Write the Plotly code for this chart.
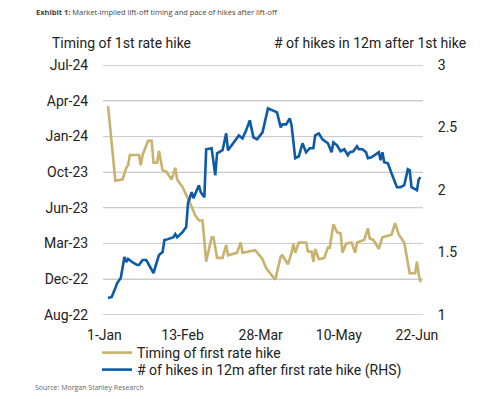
import plotly.graph_objects as go
import pandas as pd

# ---------------- data ----------------
# Day offsets from 1-Jan-2022 for each observation
gold_days = [2, 6, 10, 12, 13, 14, 19, 20, 21, 24, 26, 27, 29, 30, 32, 34, 37, 39, 40, 43,
             47, 50, 52, 54, 56, 59, 60, 62, 65, 67, 68, 73, 75, 76, 83, 87, 89, 92, 94, 97,
             98, 101, 103, 104, 105, 107, 109, 111, 112, 114, 115, 116, 118, 121, 123, 124, 126, 128, 130, 131,
             133, 136, 138, 139, 143, 145, 146, 148, 151, 153, 158, 160, 162, 165, 167, 168, 171, 172, 173, 174]
# Market-implied timing of first rate hike (decimal year)
gold_vals = [2024.27, 2023.69, 2023.70, 2023.79, 2023.81, 2023.89, 2023.89, 2023.81, 2023.89, 2024.00,
             2024.00, 2023.83, 2023.83, 2023.92, 2023.77, 2023.76, 2023.70, 2023.79, 2023.70, 2023.64,
             2023.52, 2023.42, 2023.38, 2023.38, 2023.06, 2023.25, 2023.25, 2023.09, 2023.09, 2023.19,
             2023.11, 2023.13, 2023.21, 2023.13, 2023.15, 2023.08, 2023.01, 2022.96, 2022.92, 2023.10,
             2023.11, 2023.04, 2023.13, 2023.20, 2023.13, 2023.21, 2023.21, 2023.21, 2023.14, 2023.14,
             2023.06, 2023.16, 2023.08, 2023.09, 2023.17, 2023.17, 2023.35, 2023.29, 2023.28, 2023.13,
             2023.20, 2023.21, 2023.13, 2023.21, 2023.23, 2023.32, 2023.24, 2023.23, 2023.16, 2023.25,
             2023.27, 2023.36, 2023.27, 2023.21, 2023.05, 2022.97, 2022.97, 2023.06, 2022.96, 2022.90]

blue_days = [2, 4, 6, 7, 9, 10, 11, 12, 13, 16, 18, 19, 21, 23, 25, 27, 28, 30, 32, 33,
             35, 38, 39, 40, 43, 45, 46, 48, 49, 51, 52, 53, 55, 56, 59, 61, 62, 65, 67, 68,
             72, 74, 76, 78, 80, 82, 84, 87, 90, 93, 95, 97, 98, 100, 102, 103, 105, 107, 109, 111,
             113, 115, 116, 118, 120, 123, 125, 126, 128, 130, 132, 134, 135, 137, 139, 140, 142, 144, 145, 147,
             150, 151, 152, 153, 154, 156, 158, 161, 163, 165, 167, 168, 169, 170, 172, 173, 174]
# Number of hikes in 12m after first rate hike (RHS)
blue_vals = [1.136, 1.144, 1.216, 1.256, 1.296, 1.384, 1.464, 1.424, 1.448, 1.416,
             1.400, 1.400, 1.440, 1.440, 1.384, 1.336, 1.384, 1.480, 1.504, 1.599,
             1.607, 1.623, 1.647, 1.623, 1.663, 1.703, 1.895, 1.982, 1.935, 2.014,
             2.038, 1.982, 1.943, 2.326, 2.334, 2.118, 2.294, 2.318, 2.453, 2.318,
             2.397, 2.437, 2.413, 2.477, 2.557, 2.421, 2.405, 2.461, 2.653, 2.637,
             2.621, 2.501, 2.525, 2.525, 2.573, 2.517, 2.254, 2.270, 2.374, 2.302,
             2.334, 2.334, 2.437, 2.453, 2.405, 2.374, 2.302, 2.381, 2.358, 2.310,
             2.326, 2.278, 2.302, 2.310, 2.350, 2.326, 2.326, 2.302, 2.254, 2.262,
             2.294, 2.302, 2.238, 2.302, 2.222, 2.214, 2.134, 2.022, 2.022, 2.038,
             2.166, 2.158, 2.022, 2.014, 1.998, 2.086, 2.102]

x_tick_dates = ["2022-01-01", "2022-02-13", "2022-03-28", "2022-05-10", "2022-06-22"]
x_tick_labels = ["1-Jan", "13-Feb", "28-Mar", "10-May", "22-Jun"]
left_tick_labels = ["Aug-22", "Dec-22", "Mar-23", "Jun-23", "Oct-23", "Jan-24", "Apr-24", "Jul-24"]
left_axis_start = 2022.649   # decimal year at the Aug-22 gridline
left_axis_step = 0.2767      # decimal years between gridlines
right_tick_vals = [1, 1.5, 2, 2.5, 3]

series_names = ["Timing of first rate hike", "# of hikes in 12m after first rate hike (RHS)"]

# ---------------- build ----------------
base = pd.Timestamp("2022-01-01")
gold_x = [base + pd.Timedelta(days=d) for d in gold_days]
blue_x = [base + pd.Timedelta(days=d) for d in blue_days]
left_tick_vals = [left_axis_start + i * left_axis_step for i in range(len(left_tick_labels))]

GOLD = "#C8B26E"
BLUE = "#0D5BA6"
FONT = "Roboto"
TXT = "#222222"
GRID = "#CCCCCC"

W, H = 500, 399
OFF = 8                      # page (body) offset of the figure in the browser window
PL, PT, PR, PB = 103, 65, 423, 315   # plot box in window pixels
L, T = PL - OFF, PT - OFF
pw, ph = PR - PL, PB - PT
R, B = W - L - pw, H - T - ph

def px(x):   # window pixel -> paper x
    return (x - PL) / pw

def py(y):   # window pixel -> paper y
    return (PB - y) / ph

def cx(x):   # window pixel -> container x
    return (x - OFF) / W

def cy(y):   # window pixel -> container y
    return 1 - (y - OFF) / H

fig = go.Figure()

# horizontal gridlines at the left-axis ticks (drawn between grid layer and traces)
for v in left_tick_vals:
    fig.add_shape(type="line", xref="paper", yref="y", x0=0, x1=1, y0=v, y1=v,
                  line=dict(color=GRID, width=1), layer="between")

fig.add_trace(go.Scatter(x=gold_x, y=gold_vals, mode="lines", name=series_names[0],
                         line=dict(color=GOLD, width=2.6), yaxis="y", legend="legend"))
fig.add_trace(go.Scatter(x=blue_x, y=blue_vals, mode="lines", name=series_names[1],
                         line=dict(color=BLUE, width=2.6), yaxis="y2", legend="legend2"))

legend_common = dict(xanchor="left", yanchor="middle", xref="container", yref="container",
                     font=dict(size=14, color=TXT), bgcolor="rgba(0,0,0,0)",
                     itemwidth=30, borderwidth=0)

fig.update_layout(
    width=W, height=H,
    margin=dict(l=L, r=R, t=T, b=B, autoexpand=False),
    paper_bgcolor="white", plot_bgcolor="rgba(0,0,0,0)",
    font=dict(family=FONT, color=TXT, size=14),
    xaxis=dict(type="date", range=["2021-12-31 05:00", "2022-06-25 08:00"],
               tickvals=x_tick_dates, ticktext=x_tick_labels,
               showgrid=False, zeroline=False, showline=False,
               ticks="outside", ticklen=7, tickcolor="rgba(0,0,0,0)",
               tickfont=dict(size=14, color=TXT)),
    yaxis=dict(type="linear", range=[left_tick_vals[0] - 0.003, left_tick_vals[-1] + 0.003],
               tickvals=left_tick_vals, ticktext=left_tick_labels,
               showgrid=True, gridcolor=GRID, gridwidth=1,
               zeroline=False, showline=False,
               ticks="outside", ticklen=11, tickcolor="rgba(0,0,0,0)",
               tickfont=dict(size=14, color=TXT)),
    yaxis2=dict(type="linear", range=[1, 3], tickvals=right_tick_vals, overlaying="y", side="right",
                showgrid=False, zeroline=False, showline=False,
                ticks="outside", ticklen=11, tickcolor="rgba(0,0,0,0)",
                tickfont=dict(size=14, color=TXT)),
    legend=dict(x=cx(97), y=cy(353), **legend_common),
    legend2=dict(x=cx(97), y=cy(370), **legend_common),
    showlegend=True,
)

annots = [
    dict(text="<b>Exhibit 1:</b> Market-implied lift-off timing and pace of hikes after lift-off",
         x=px(34), y=py(12), xanchor="left", yanchor="middle",
         font=dict(family="Open Sans", size=7.5, color="#444444")),
    dict(text="Timing of 1st rate hike", x=px(50), y=py(43), xanchor="left", yanchor="middle",
         font=dict(size=14, color=TXT)),
    dict(text="# of hikes in 12m after 1st hike", x=px(272), y=py(43), xanchor="left", yanchor="middle",
         font=dict(size=14, color=TXT)),
    dict(text="Source: Morgan Stanley Research", x=px(33), y=py(387), xanchor="left", yanchor="middle",
         font=dict(family="Open Sans", size=7, color="#666666")),
]
for a in annots:
    fig.add_annotation(xref="paper", yref="paper", showarrow=False, **a)

fig.write_html("out.html")
